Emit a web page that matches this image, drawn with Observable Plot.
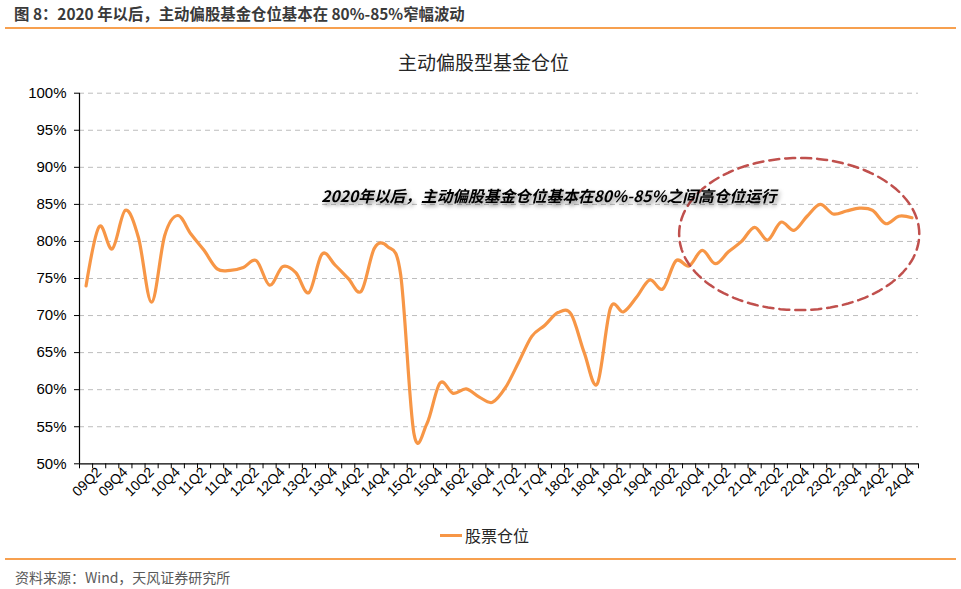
<!DOCTYPE html>
<html><head><meta charset="utf-8">
<script src="https://cdn.jsdelivr.net/npm/d3@7"></script>
<script src="https://cdn.jsdelivr.net/npm/@observablehq/plot@0.6"></script>
<style>
body{margin:0;background:#fff;}
#wrap{position:relative;width:961px;height:589px;overflow:hidden;font-family:"Liberation Sans",Arial,"Noto Sans CJK SC",sans-serif;}
#hdr{position:absolute;left:14px;top:2px;font-family:"Noto Sans CJK SC";font-weight:bold;font-size:15.4px;line-height:22px;color:#3a3a3a;white-space:nowrap;}
.rule{position:absolute;left:5px;width:951px;height:2px;background:#f7a04f;}
#title{position:absolute;left:0;width:967px;top:48px;text-align:center;font-family:"Noto Sans CJK SC";font-size:19px;line-height:27px;color:#262626;}
#chart{position:absolute;left:0;top:80px;}
#legend{position:absolute;top:523px;left:440px;display:flex;align-items:center;font-family:"Noto Sans CJK SC";font-size:16px;line-height:24px;color:#262626;}
#legend .sw{display:inline-block;width:22px;height:3px;background:#f79646;margin-right:3px;}
#src{position:absolute;left:15px;top:567px;font-family:"Noto Sans CJK SC";font-size:14px;line-height:20px;color:#595959;}
#chart svg g[aria-label="text"] text{filter:drop-shadow(2px 3px 2px rgba(0,0,0,0.45));}
</style></head>
<body>
<div id="wrap">
  <div id="hdr">图 8：2020 年以后，主动偏股基金仓位基本在 80%-85%窄幅波动</div>
  <div class="rule" style="top:27px"></div>
  <div id="title">主动偏股型基金仓位</div>
  <div id="chart"></div>
  <div id="legend"><span class="sw"></span><span>股票仓位</span></div>
  <div class="rule" style="top:558px"></div>
  <div id="src">资料来源：Wind，天风证券研究所</div>
</div>
<script>
const quarters = [
  "09Q1","09Q2","09Q3","09Q4","10Q1","10Q2","10Q3","10Q4",
  "11Q1","11Q2","11Q3","11Q4","12Q1","12Q2","12Q3","12Q4",
  "13Q1","13Q2","13Q3","13Q4","14Q1","14Q2","14Q3","14Q4",
  "15Q1","15Q2","15Q3","15Q4","16Q1","16Q2","16Q3","16Q4",
  "17Q1","17Q2","17Q3","17Q4","18Q1","18Q2","18Q3","18Q4",
  "19Q1","19Q2","19Q3","19Q4","20Q1","20Q2","20Q3","20Q4",
  "21Q1","21Q2","21Q3","21Q4","22Q1","22Q2","22Q3","22Q4",
  "23Q1","23Q2","23Q3","23Q4","24Q1","24Q2","24Q3","24Q4"
];
const stockPosition = [
  74.0, 82.0, 79.0, 84.2, 80.5, 71.8, 80.8, 83.5,
  81.0, 78.8, 76.3, 76.1, 76.5, 77.4, 74.1, 76.6,
  75.8, 73.1, 78.3, 76.8, 75.0, 73.3, 79.1, 79.3,
  75.5, 54.2, 55.4, 60.9, 59.5, 60.1, 59.0, 58.3,
  60.3, 63.7, 67.2, 68.7, 70.4, 70.2, 65.0, 60.8,
  71.0, 70.5, 72.5, 74.8, 73.6, 77.4, 76.7, 78.8,
  77.0, 78.6, 80.0, 81.9, 80.2, 82.6, 81.5, 83.4,
  85.0, 83.7, 84.1, 84.5, 84.2, 82.4, 83.4, 83.2
];
const yTicks = [50, 55, 60, 65, 70, 75, 80, 85, 90, 95, 100];
const seriesName = "股票仓位";
const noteText = "2020年以后，主动偏股基金仓位基本在80%-85%之间高仓位运行";
// annotation placement in data units (quarter index, percent)
const notePos = {i: 35.3, v: 85.95};
const ellipseSpec = {ci: 54.4, cv: 81.0, ri: 9.16, rv: 10.26};

const data = quarters.map((q, i) => ({i, q, v: stockPosition[i]}));
const labelIdx = quarters.map((q, i) => /Q[24]$/.test(q) ? i : -1).filter(i => i >= 0);
const boundaries = d3.range(quarters.length + 1).map(i => i - 0.5);
const ellipsePts = d3.range(0, 361, 3).map(a => {
  const t = a * Math.PI / 180;
  return {i: ellipseSpec.ci + ellipseSpec.ri * Math.cos(t), v: ellipseSpec.cv + ellipseSpec.rv * Math.sin(t)};
});

const chart = Plot.plot({
  width: 961, height: 440,
  marginLeft: 79, marginRight: 43, marginTop: 12.7, marginBottom: 56.7,
  x: {type: "linear", domain: [-0.5, quarters.length - 0.5], label: null},
  y: {domain: [50, 100], label: null},
  style: {fontFamily: "'Liberation Sans', Arial, sans-serif", fontSize: "14px", color: "#000", background: "transparent", overflow: "visible"},
  marks: [
    Plot.gridY(yTicks.filter(d => d > 50), {stroke: "#bdbdbd", strokeOpacity: 1, strokeDasharray: "5,4"}),
    Plot.axisY(yTicks, {tickFormat: d => d + "%", tickSize: 5, tickPadding: 8, fontSize: 15, label: null}),
    Plot.axisX(boundaries, {tickFormat: () => "", tickSize: 5, label: null}),
    Plot.axisX(labelIdx, {tickFormat: i => quarters[i], tickSize: 0, tickPadding: 6, tickRotate: -45, fontSize: 14, label: null}),
    Plot.ruleY([50], {stroke: "#000", strokeWidth: 1.2}),
    Plot.ruleX([-0.5], {stroke: "#000", strokeWidth: 1.2}),
    Plot.line(data, {x: "i", y: "v", stroke: "#f79646", strokeWidth: 3.2, curve: d3.curveCatmullRom.alpha(0)}),
    Plot.line(ellipsePts, {x: "i", y: "v", stroke: "#c0504d", strokeWidth: 2.5, strokeDasharray: "10,6"}),
    Plot.text([noteText], {x: () => notePos.i, y: () => notePos.v, text: d => d, fontSize: 15.7, fontWeight: "bold", fontStyle: "italic", fill: "#000", fontFamily: "'Noto Sans CJK SC', sans-serif"})
  ]
});
document.getElementById("chart").appendChild(chart);
</script>
</body></html>
